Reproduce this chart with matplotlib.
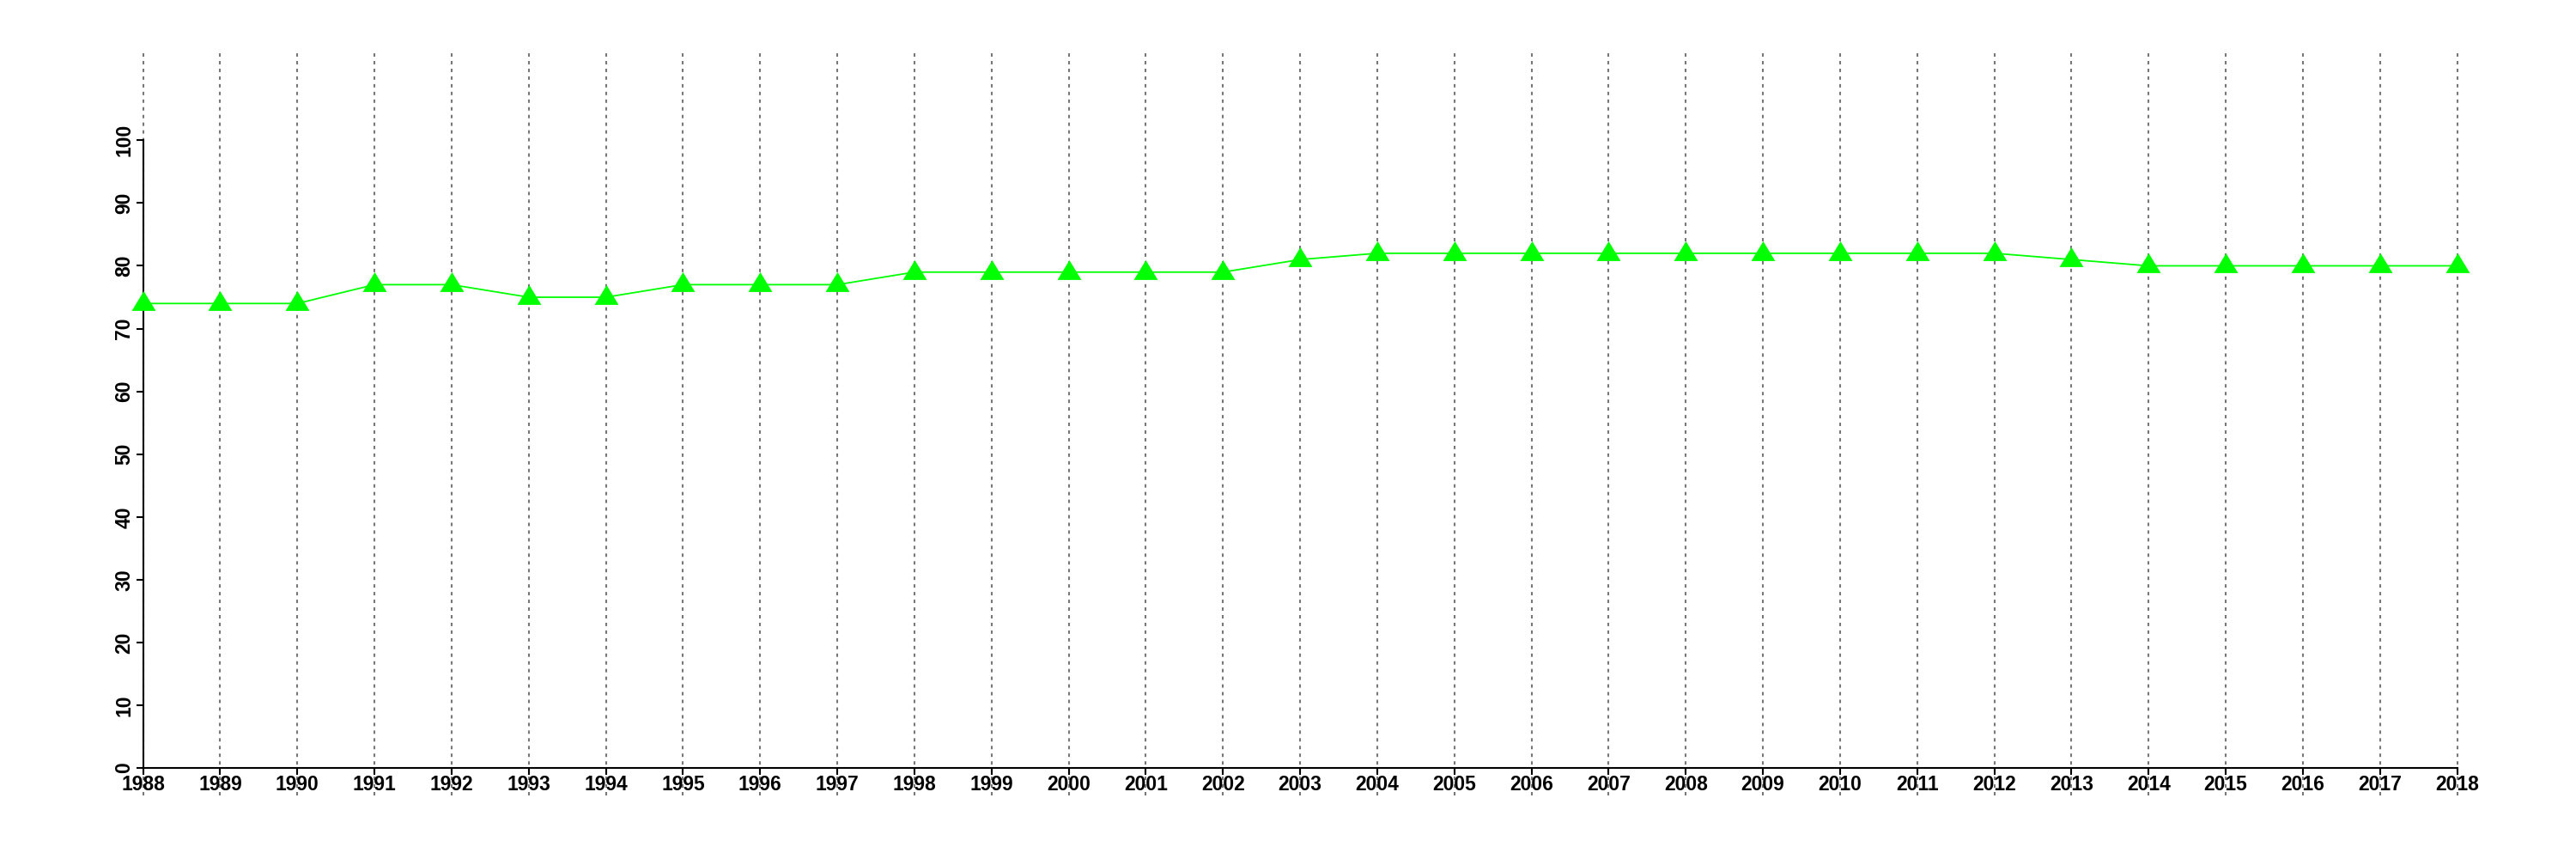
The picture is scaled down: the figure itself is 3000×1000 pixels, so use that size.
import matplotlib
matplotlib.use("Agg")
import matplotlib.pyplot as plt
import numpy as np

# values
years = list(range(1988, 2019))
values = [74, 74, 74, 77, 77, 75, 75, 77, 77, 77,
          79, 79, 79, 79, 79, 81, 82, 82, 82, 82,
          82, 82, 82, 82, 82, 81, 80, 80, 80, 80, 80]
y_ticks = list(range(0, 101, 10))

plt.rcParams["font.family"] = ["Liberation Sans", "DejaVu Sans"]

fig = plt.figure(figsize=(30, 10), dpi=100)
ax = fig.add_axes([0.0196, 0.0738, 0.9702, 0.8681])

# dotted vertical grid at every year, full height of plot region
for yr in years:
    ax.axvline(yr, color="#777777", lw=1.5, linestyle=(0, (1.9, 2.4)), zorder=1)

# R-like filled triangle (pch 17), apex higher above the point than base below
tri = [(-14, -8.4), (14, -8.4), (0, 14.6)]
ax.plot(years, values, color="#00ff00", lw=1.3, marker=tri, markersize=21,
        markeredgewidth=0, zorder=3, clip_on=False)

ax.set_xlim(1986.8, 2019.2)
ax.set_ylim(-4.4, 114.4)

ax.spines["top"].set_visible(False)
ax.spines["right"].set_visible(False)
ax.spines["left"].set_bounds(0, 100)
ax.spines["bottom"].set_bounds(1988, 2018)
ax.spines["left"].set_position(("data", 1988))
ax.spines["bottom"].set_position(("data", 0))
for s in ("left", "bottom"):
    ax.spines[s].set_linewidth(1.5)
    ax.spines[s].set_zorder(2)

ax.set_xticks(years)
ax.set_xticklabels([str(y) for y in years], fontweight="bold")
ax.set_yticks(y_ticks)
ax.set_yticklabels([str(v) for v in y_ticks], rotation=90, va="center",
                   fontweight="bold")
ax.tick_params(axis="both", direction="out", length=5.8, width=1.5, labelsize=16.5)
ax.tick_params(axis="x", pad=0)
ax.tick_params(axis="y", pad=1.5)

fig.savefig("out.png", dpi=100)
